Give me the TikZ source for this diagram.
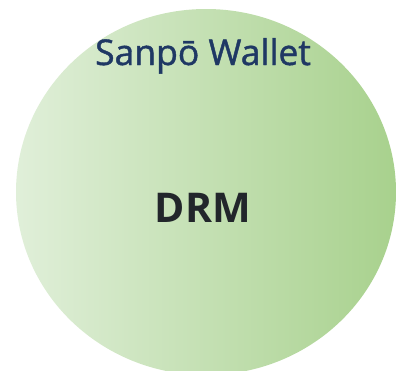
\documentclass[tikz,border=0pt]{standalone}
\usepackage{fontspec}
\setmainfont{Open Sans}
\newfontfamily\headingfont{Open Sans}[FakeBold=1.2]
\definecolor{paleleft}{HTML}{E0EFD9}
\definecolor{greenright}{HTML}{A8D18D}
\definecolor{titleblue}{HTML}{1F3864}
\definecolor{drmink}{HTML}{22262B}
\tikzset{
  disc/.style={left color=paleleft, right color=greenright},
  titletext/.style={anchor=base, inner sep=0pt, text=titleblue, font=\headingfont\fontsize{35.5}{42}\selectfont},
  bigtext/.style={anchor=base, inner sep=0pt, text=drmink, font=\bfseries\fontsize{41}{48}\selectfont}
}
\begin{document}
\begin{tikzpicture}[x=1pt,y=-1pt]
\useasboundingbox (0,0) rectangle (403,370);
\begin{scope}
  \clip (0,0) rectangle (403,370);
  % shaded disc, its lower rim runs past the bottom edge
  \path[disc] (206,192) ellipse [x radius=190pt, y radius=183pt];
\end{scope}
\node[titletext] (title) at (203,65) {Sanpō Wallet};
\node[bigtext] (drm) at (203,222) {DRM};
\end{tikzpicture}
\end{document}
